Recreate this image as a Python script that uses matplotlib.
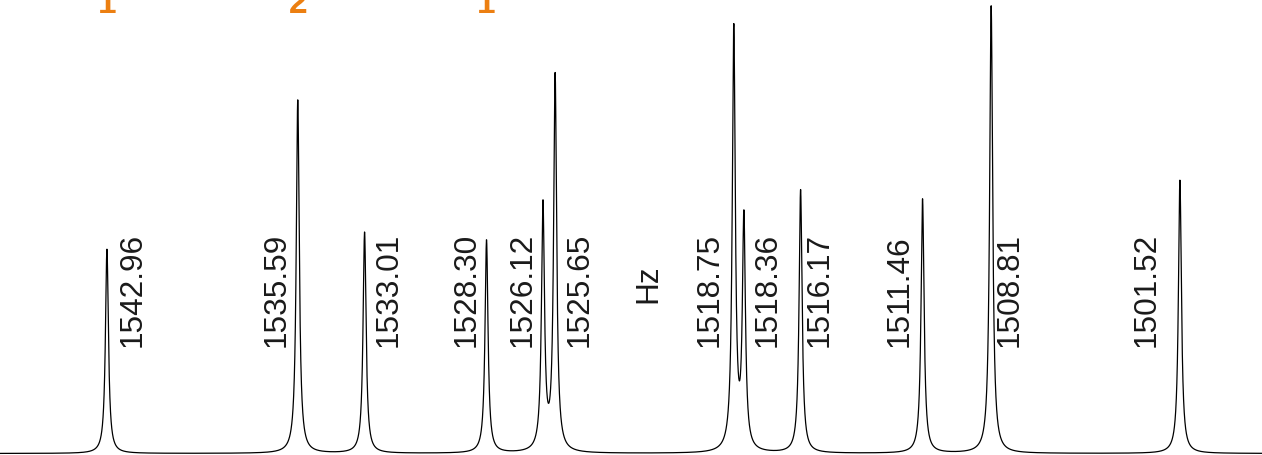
import numpy as np
import matplotlib.pyplot as plt

plt.rcParams["font.family"] = ["Liberation Sans", "DejaVu Sans"]

# peak positions (Hz) and heights (arbitrary units)
peak_hz = [1542.96, 1535.59, 1533.01, 1528.30, 1526.12, 1525.65,
           1518.75, 1518.36, 1516.17, 1511.46, 1508.81, 1501.52]
peak_height = [204, 353, 221, 213, 245, 375,
               422, 230, 263, 254, 447, 273]

# label positions along the axis (Hz)
label_hz = [1541.95, 1536.39, 1532.10, 1529.05, 1526.89, 1524.69,
            1519.67, 1517.46, 1515.42, 1512.33, 1508.10, 1502.79]
label_text = ["1542.96", "1535.59", "1533.01", "1528.30", "1526.12", "1525.65",
              "1518.75", "1518.36", "1516.17", "1511.46", "1508.81", "1501.52"]

# multiplicity marks at the top (cut off by the top edge, as in the source)
mult_hz = [1542.96, 1535.59, 1528.30]
mult_text = ["1", "2", "1"]

hwhm = 0.07
x = np.linspace(1547.1, 1498.3, 12000)
y = np.zeros_like(x)
for p, h in zip(peak_hz, peak_height):
    y += h / (1 + ((x - p) / hwhm) ** 2)

fig = plt.figure(figsize=(12.62, 4.56), dpi=100)
ax = fig.add_axes([0, 0, 1, 1])
ax.plot(x, y, color="black", linewidth=0.9)
ax.set_xlim(1547.09, 1498.35)
ax.set_ylim(-1.5, 454)
ax.axis("off")

for lx, t in zip(label_hz, label_text):
    ax.text(lx, 107, t, rotation=90, ha="center", va="bottom",
            fontsize=22.7, color="#1a1a1a")

ax.text(1522.06, 151, "Hz", rotation=90, ha="center", va="bottom",
        fontsize=22.7, color="#1a1a1a")

for mx, t in zip(mult_hz, mult_text):
    ax.text(mx, 441, t, ha="center", va="baseline", fontsize=24,
            fontweight="bold", color="#EC7F11", clip_on=False)

fig.savefig("out.png", dpi=100)
